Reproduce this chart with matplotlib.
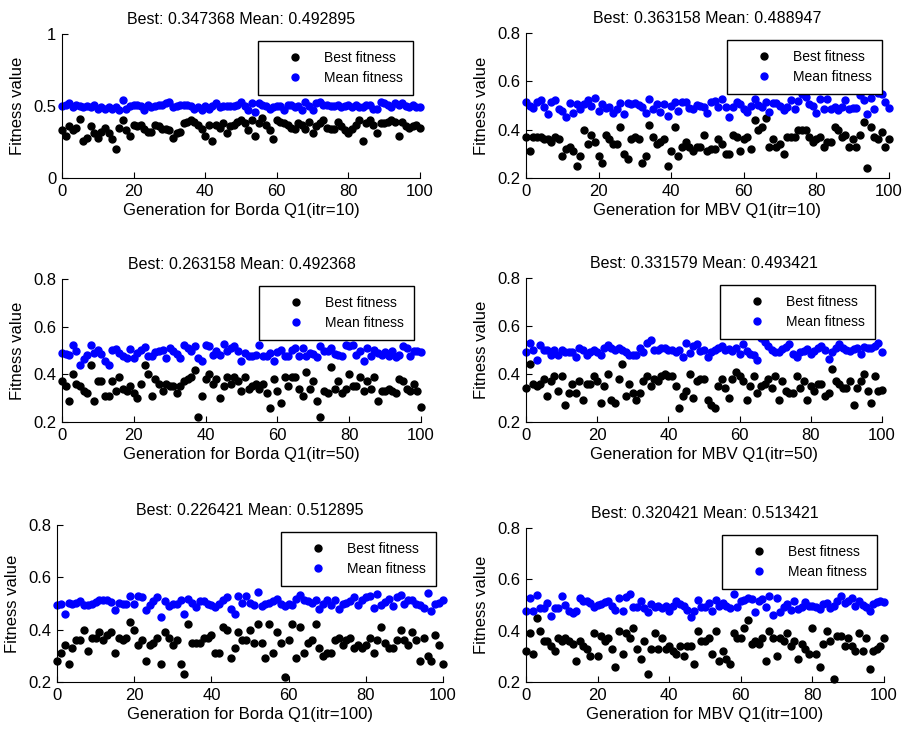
import matplotlib.pyplot as plt
import numpy as np

plt.rcParams['font.family'] = ['Liberation Sans', 'DejaVu Sans']

# ---- data (generation 0..100) ----
borda10_best = [0.33, 0.29, 0.36, 0.33, 0.35, 0.41, 0.26, 0.28, 0.36, 0.31,
                0.28, 0.32, 0.35, 0.31, 0.27, 0.20, 0.35, 0.40, 0.33, 0.29,
                0.37, 0.36, 0.37, 0.34, 0.32, 0.32, 0.37, 0.36, 0.34, 0.34,
                0.33, 0.28, 0.31, 0.32, 0.38, 0.39, 0.40, 0.39, 0.37, 0.34,
                0.29, 0.37, 0.26, 0.37, 0.35, 0.38, 0.31, 0.36, 0.37, 0.39,
                0.40, 0.38, 0.33, 0.40, 0.29, 0.38, 0.42, 0.37, 0.33, 0.27,
                0.40, 0.39, 0.38, 0.37, 0.35, 0.34, 0.38, 0.37, 0.34, 0.39,
                0.31, 0.36, 0.38, 0.40, 0.35, 0.34, 0.34, 0.39, 0.36, 0.33,
                0.31, 0.34, 0.37, 0.40, 0.26, 0.38, 0.40, 0.37, 0.31, 0.38,
                0.38, 0.39, 0.40, 0.39, 0.29, 0.39, 0.36, 0.35, 0.36, 0.37,
                0.347368]
borda10_mean = [0.50, 0.51, 0.52, 0.49, 0.51, 0.50, 0.49, 0.50, 0.49, 0.51,
                0.48, 0.49, 0.48, 0.49, 0.48, 0.49, 0.47, 0.54, 0.48, 0.50,
                0.51, 0.51, 0.50, 0.47, 0.51, 0.49, 0.50, 0.51, 0.51, 0.52,
                0.53, 0.49, 0.50, 0.51, 0.51, 0.51, 0.50, 0.48, 0.49, 0.47,
                0.50, 0.48, 0.50, 0.52, 0.49, 0.50, 0.50, 0.50, 0.50, 0.51,
                0.53, 0.50, 0.47, 0.52, 0.46, 0.52, 0.51, 0.50, 0.48, 0.49,
                0.50, 0.50, 0.47, 0.51, 0.51, 0.49, 0.50, 0.47, 0.53, 0.50,
                0.47, 0.52, 0.53, 0.51, 0.51, 0.50, 0.50, 0.51, 0.49, 0.50,
                0.51, 0.49, 0.51, 0.49, 0.49, 0.51, 0.51, 0.48, 0.48, 0.53,
                0.52, 0.51, 0.49, 0.52, 0.51, 0.52, 0.50, 0.49, 0.51, 0.49,
                0.492895]

mbv10_best = [0.37, 0.31, 0.37, 0.37, 0.37, 0.36, 0.36, 0.35, 0.37, 0.36,
              0.29, 0.32, 0.33, 0.31, 0.25, 0.29, 0.40, 0.34, 0.38, 0.35,
              0.29, 0.26, 0.38, 0.36, 0.34, 0.34, 0.41, 0.30, 0.28, 0.36,
              0.37, 0.36, 0.26, 0.29, 0.42, 0.37, 0.34, 0.35, 0.36, 0.25,
              0.31, 0.41, 0.29, 0.33, 0.35, 0.33, 0.31, 0.33, 0.33, 0.38,
              0.31, 0.32, 0.32, 0.36, 0.34, 0.30, 0.30, 0.38, 0.37, 0.31,
              0.36, 0.37, 0.32, 0.44, 0.40, 0.41, 0.45, 0.33, 0.36, 0.33,
              0.34, 0.30, 0.37, 0.37, 0.37, 0.40, 0.40, 0.40, 0.37, 0.35,
              0.36, 0.37, 0.33, 0.35, 0.35, 0.41, 0.40, 0.37, 0.38, 0.33,
              0.36, 0.33, 0.38, 0.43, 0.24, 0.41, 0.37, 0.36, 0.39, 0.33,
              0.363158]
mbv10_mean = [0.516, 0.498, 0.488, 0.516, 0.523, 0.492, 0.465, 0.516, 0.523, 0.484,
              0.479, 0.454, 0.512, 0.470, 0.506, 0.484, 0.506, 0.523, 0.498, 0.530,
              0.479, 0.506, 0.488, 0.495, 0.470, 0.484, 0.512, 0.465, 0.509, 0.506,
              0.512, 0.502, 0.495, 0.468, 0.526, 0.484, 0.506, 0.475, 0.506, 0.457,
              0.498, 0.516, 0.479, 0.516, 0.516, 0.488, 0.484, 0.502, 0.498, 0.492,
              0.470, 0.516, 0.520, 0.495, 0.526, 0.492, 0.451, 0.492, 0.516, 0.506,
              0.484, 0.475, 0.498, 0.526, 0.502, 0.492, 0.516, 0.475, 0.512, 0.512,
              0.498, 0.481, 0.495, 0.523, 0.484, 0.520, 0.547, 0.537, 0.506, 0.498,
              0.468, 0.526, 0.484, 0.526, 0.484, 0.492, 0.481, 0.495, 0.523, 0.484,
              0.488, 0.488, 0.543, 0.523, 0.465, 0.530, 0.484, 0.550, 0.547, 0.516,
              0.488947]

borda50_best = [0.37, 0.35, 0.29, 0.40, 0.36, 0.35, 0.33, 0.32, 0.44, 0.29,
                0.37, 0.37, 0.31, 0.31, 0.37, 0.33, 0.39, 0.34, 0.33, 0.35,
                0.32, 0.30, 0.36, 0.44, 0.40, 0.31, 0.38, 0.36, 0.33, 0.36,
                0.35, 0.35, 0.32, 0.35, 0.37, 0.38, 0.39, 0.42, 0.22, 0.31,
                0.38, 0.40, 0.36, 0.38, 0.30, 0.35, 0.39, 0.36, 0.39, 0.37,
                0.33, 0.39, 0.34, 0.35, 0.36, 0.34, 0.36, 0.32, 0.26, 0.38,
                0.33, 0.28, 0.39, 0.35, 0.39, 0.39, 0.34, 0.31, 0.41, 0.34,
                0.37, 0.29, 0.22, 0.33, 0.32, 0.43, 0.34, 0.37, 0.32, 0.34,
                0.40, 0.35, 0.35, 0.39, 0.33, 0.37, 0.34, 0.39, 0.29, 0.33,
                0.33, 0.34, 0.33, 0.32, 0.38, 0.37, 0.34, 0.33, 0.36, 0.33,
                0.263158]
borda50_mean = [0.490, 0.486, 0.482, 0.521, 0.496, 0.440, 0.465, 0.482, 0.521, 0.490,
                0.504, 0.486, 0.458, 0.440, 0.504, 0.507, 0.490, 0.476, 0.468, 0.507,
                0.468, 0.490, 0.504, 0.514, 0.479, 0.476, 0.493, 0.500, 0.504, 0.468,
                0.510, 0.500, 0.486, 0.468, 0.521, 0.510, 0.496, 0.518, 0.468, 0.458,
                0.524, 0.518, 0.482, 0.496, 0.482, 0.528, 0.496, 0.510, 0.518, 0.496,
                0.458, 0.490, 0.476, 0.476, 0.480, 0.521, 0.479, 0.476, 0.490, 0.458,
                0.493, 0.504, 0.476, 0.476, 0.504, 0.510, 0.476, 0.510, 0.476, 0.490,
                0.486, 0.472, 0.518, 0.496, 0.500, 0.510, 0.486, 0.482, 0.479, 0.524,
                0.518, 0.521, 0.482, 0.496, 0.458, 0.510, 0.476, 0.504, 0.490, 0.482,
                0.493, 0.476, 0.496, 0.472, 0.482, 0.518, 0.510, 0.476, 0.500, 0.500,
                0.492368]

mbv50_best = [0.34, 0.44, 0.36, 0.35, 0.36, 0.38, 0.31, 0.37, 0.39, 0.33,
              0.39, 0.27, 0.32, 0.36, 0.32, 0.37, 0.29, 0.36, 0.36, 0.39,
              0.37, 0.28, 0.35, 0.40, 0.29, 0.28, 0.38, 0.44, 0.31, 0.36,
              0.32, 0.29, 0.32, 0.37, 0.39, 0.35, 0.38, 0.37, 0.39, 0.40,
              0.39, 0.39, 0.35, 0.26, 0.31, 0.33, 0.40, 0.30, 0.37, 0.38,
              0.38, 0.29, 0.27, 0.26, 0.35, 0.38, 0.34, 0.30, 0.38, 0.41,
              0.39, 0.37, 0.29, 0.35, 0.39, 0.32, 0.35, 0.36, 0.38, 0.34,
              0.39, 0.29, 0.37, 0.33, 0.32, 0.32, 0.39, 0.34, 0.37, 0.29,
              0.35, 0.33, 0.36, 0.36, 0.31, 0.32, 0.42, 0.37, 0.36, 0.34,
              0.34, 0.37, 0.27, 0.34, 0.37, 0.40, 0.33, 0.28, 0.39, 0.33,
              0.331579]
mbv50_mean = [0.49, 0.53, 0.50, 0.46, 0.52, 0.50, 0.50, 0.48, 0.50, 0.48,
              0.50, 0.49, 0.49, 0.49, 0.47, 0.51, 0.50, 0.48, 0.49, 0.50,
              0.49, 0.48, 0.51, 0.52, 0.51, 0.50, 0.51, 0.50, 0.49, 0.48,
              0.48, 0.48, 0.51, 0.49, 0.53, 0.54, 0.50, 0.50, 0.51, 0.51,
              0.50, 0.50, 0.49, 0.50, 0.47, 0.53, 0.486, 0.518, 0.524, 0.496,
              0.500, 0.472, 0.493, 0.500, 0.510, 0.518, 0.500, 0.504, 0.496, 0.507,
              0.482, 0.524, 0.496, 0.482, 0.479, 0.458, 0.551, 0.535, 0.518, 0.500,
              0.490, 0.493, 0.504, 0.514, 0.524, 0.482, 0.472, 0.490, 0.496, 0.504,
              0.482, 0.496, 0.510, 0.518, 0.500, 0.462, 0.490, 0.510, 0.524, 0.510,
              0.500, 0.496, 0.504, 0.510, 0.482, 0.514, 0.507, 0.510, 0.518, 0.528,
              0.493421]

borda100_best = [0.28, 0.31, 0.34, 0.27, 0.33, 0.36, 0.36, 0.40, 0.32, 0.37,
                 0.37, 0.39, 0.36, 0.38, 0.39, 0.31, 0.37, 0.36, 0.37, 0.43,
                 0.40, 0.34, 0.36, 0.28, 0.34, 0.35, 0.37, 0.27, 0.39, 0.37,
                 0.34, 0.36, 0.27, 0.23, 0.42, 0.35, 0.35, 0.35, 0.37, 0.37,
                 0.38, 0.31, 0.31, 0.41, 0.40, 0.29, 0.33, 0.39, 0.36, 0.36,
                 0.40, 0.35, 0.42, 0.35, 0.29, 0.42, 0.31, 0.39, 0.35, 0.22,
                 0.36, 0.42, 0.29, 0.41, 0.31, 0.35, 0.36, 0.42, 0.33, 0.30,
                 0.31, 0.31, 0.36, 0.37, 0.34, 0.36, 0.37, 0.33, 0.34, 0.33,
                 0.34, 0.37, 0.31, 0.36, 0.41, 0.35, 0.33, 0.33, 0.36, 0.40,
                 0.36, 0.34, 0.39, 0.36, 0.28, 0.37, 0.30, 0.28, 0.38, 0.34,
                 0.27]
borda100_mean = [0.493, 0.497, 0.461, 0.502, 0.497, 0.502, 0.510, 0.493, 0.493, 0.500,
                 0.506, 0.512, 0.512, 0.512, 0.506, 0.476, 0.502, 0.497, 0.497, 0.528,
                 0.497, 0.528, 0.523, 0.476, 0.493, 0.510, 0.523, 0.450, 0.510, 0.489,
                 0.497, 0.497, 0.512, 0.461, 0.519, 0.502, 0.487, 0.510, 0.510, 0.497,
                 0.493, 0.487, 0.500, 0.515, 0.523, 0.480, 0.461, 0.528, 0.502, 0.528,
                 0.502, 0.493, 0.545, 0.489, 0.500, 0.502, 0.510, 0.519, 0.497, 0.489,
                 0.500, 0.493, 0.519, 0.532, 0.512, 0.510, 0.502, 0.515, 0.480, 0.497,
                 0.512, 0.493, 0.515, 0.480, 0.497, 0.502, 0.510, 0.523, 0.493, 0.512,
                 0.523, 0.528, 0.484, 0.538, 0.493, 0.506, 0.519, 0.489, 0.523, 0.532,
                 0.497, 0.512, 0.512, 0.497, 0.493, 0.484, 0.541, 0.471, 0.497, 0.502,
                 0.512895]

mbv100_best = [0.32, 0.39, 0.31, 0.45, 0.40, 0.36, 0.36, 0.34, 0.32, 0.37,
               0.36, 0.37, 0.36, 0.35, 0.28, 0.36, 0.34, 0.33, 0.30, 0.39,
               0.30, 0.38, 0.36, 0.37, 0.33, 0.26, 0.40, 0.31, 0.39, 0.37,
               0.41, 0.33, 0.29, 0.36, 0.23, 0.33, 0.39, 0.33, 0.37, 0.33,
               0.34, 0.32, 0.31, 0.34, 0.30, 0.34, 0.34, 0.27, 0.40, 0.36,
               0.36, 0.37, 0.31, 0.40, 0.28, 0.32, 0.29, 0.27, 0.39, 0.37,
               0.37, 0.41, 0.44, 0.35, 0.36, 0.35, 0.37, 0.28, 0.40, 0.37,
               0.30, 0.37, 0.36, 0.39, 0.34, 0.36, 0.29, 0.35, 0.33, 0.31,
               0.41, 0.31, 0.26, 0.35, 0.40, 0.36, 0.21, 0.38, 0.38, 0.34,
               0.37, 0.34, 0.32, 0.39, 0.32, 0.37, 0.25, 0.32, 0.33, 0.34,
               0.37]
mbv100_mean = [0.475, 0.527, 0.478, 0.540, 0.488, 0.488, 0.507, 0.459, 0.488, 0.488,
               0.537, 0.501, 0.475, 0.469, 0.478, 0.527, 0.517, 0.514, 0.507, 0.491,
               0.501, 0.504, 0.511, 0.517, 0.498, 0.482, 0.527, 0.478, 0.530, 0.543,
               0.491, 0.491, 0.517, 0.488, 0.472, 0.504, 0.491, 0.498, 0.488, 0.498,
               0.478, 0.498, 0.517, 0.504, 0.498, 0.482, 0.452, 0.478, 0.520, 0.491,
               0.494, 0.507, 0.478, 0.520, 0.498, 0.507, 0.498, 0.488, 0.543, 0.491,
               0.514, 0.520, 0.527, 0.524, 0.472, 0.517, 0.524, 0.491, 0.537, 0.462,
               0.527, 0.472, 0.491, 0.504, 0.482, 0.514, 0.485, 0.491, 0.511, 0.498,
               0.498, 0.494, 0.485, 0.504, 0.507, 0.488, 0.498, 0.514, 0.537, 0.507,
               0.517, 0.527, 0.498, 0.517, 0.501, 0.491, 0.478, 0.504, 0.511, 0.514,
               0.513421]

titles = ['Best: 0.347368 Mean: 0.492895', 'Best: 0.363158 Mean: 0.488947',
          'Best: 0.263158 Mean: 0.492368', 'Best: 0.331579 Mean: 0.493421',
          'Best: 0.226421 Mean: 0.512895', 'Best: 0.320421 Mean: 0.513421']
xlabels = ['Generation for Borda Q1(itr=10)', 'Generation for MBV Q1(itr=10)',
           'Generation for Borda Q1(itr=50)', 'Generation for MBV Q1(itr=50)',
           'Generation for Borda Q1(itr=100)', 'Generation for MBV Q1(itr=100)']
best_all = [borda10_best, mbv10_best, borda50_best, mbv50_best, borda100_best, mbv100_best]
mean_all = [borda10_mean, mbv10_mean, borda50_mean, mbv50_mean, borda100_mean, mbv100_mean]

W, H = 912, 731
# axes boxes in pixels: left, top, right, bottom
boxes = [(62, 34, 420, 178), (526, 33, 889, 178),
         (62, 279, 421, 422), (526, 278, 882, 422),
         (57, 525, 443, 682), (526, 528, 884, 682)]

fig = plt.figure(figsize=(W / 100, H / 100), dpi=100)

for i in range(6):
    l, t, r, b = boxes[i]
    ax = fig.add_axes([l / W, 1 - b / H, (r - l) / W, (b - t) / H])
    best = best_all[i]
    mean = mean_all[i]
    ax.plot(np.arange(len(best)), best, 'o', color='k', ms=5, clip_on=False, label='Best fitness')
    ax.plot(np.arange(len(mean)), mean, 'o', color='b', ms=5, clip_on=False, label='Mean fitness')

    ax.set_xlim(0, 100)
    ax.set_xticks(range(0, 101, 20))
    if i == 0:
        ax.set_ylim(0, 1)
        ax.set_yticks([0, 0.5, 1])
        ax.set_yticklabels(['0', '0.5', '1'])
    else:
        ax.set_ylim(0.2, 0.8)
        ax.set_yticks([0.2, 0.4, 0.6, 0.8])
        ax.set_yticklabels(['0.2', '0.4', '0.6', '0.8'])

    ax.spines['top'].set_visible(False)
    ax.spines['right'].set_visible(False)
    ax.tick_params(direction='in', length=4, width=0.8, labelsize=12, pad=4)

    ax.set_title(titles[i], fontsize=11.5, pad=7)
    ax.set_xlabel(xlabels[i], fontsize=12, labelpad=3)
    ax.set_ylabel('Fitness value', fontsize=12, labelpad=6)

    leg = ax.legend(loc='upper right', fontsize=10, borderaxespad=0.5, borderpad=0.7,
                    labelspacing=0.45, handlelength=3.9, handletextpad=0.2,
                    numpoints=1, fancybox=False, framealpha=1)
    leg.get_frame().set_edgecolor('k')
    leg.get_frame().set_linewidth(1.0)

fig.savefig('out.png', dpi=100)
